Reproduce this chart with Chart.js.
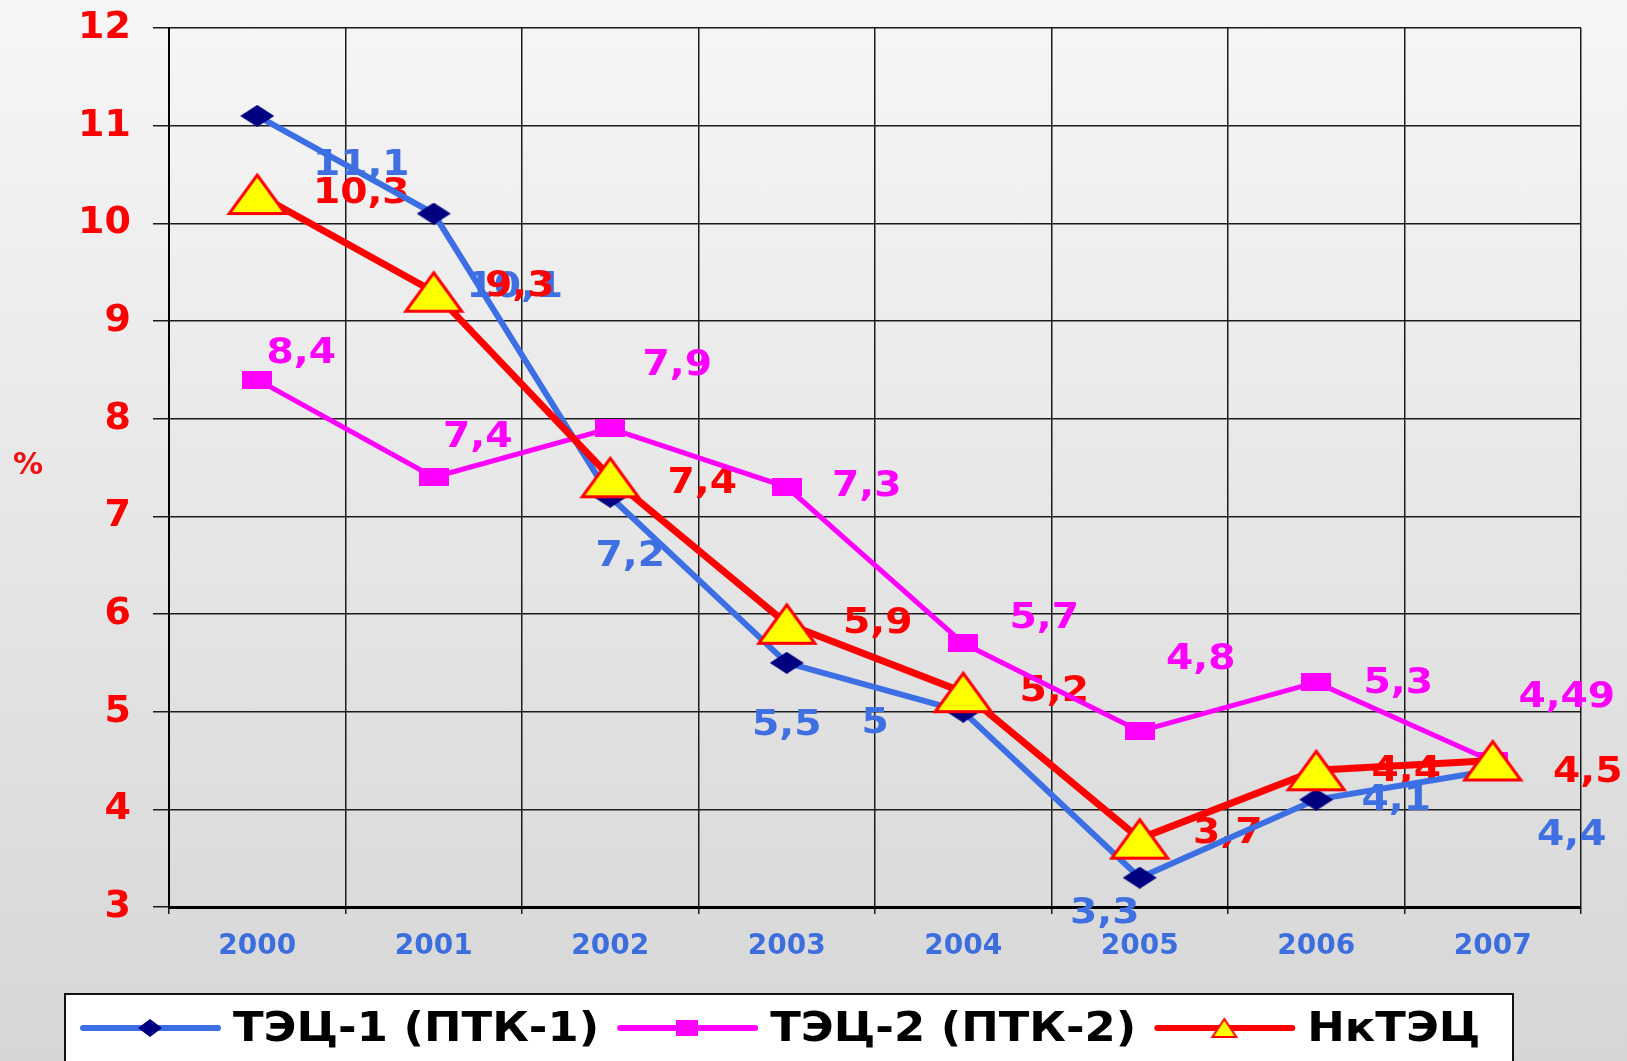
<!DOCTYPE html>
<html lang="ru">
<head>
<meta charset="utf-8">
<title>ТЭЦ, %</title>
<script src="https://cdn.jsdelivr.net/npm/chart.js@4.4.1/dist/chart.umd.min.js"></script>
<style>
    html, body { margin: 0; padding: 0; }
    body {
        width: 1627px;
        height: 1061px;
        overflow: hidden;
        background: linear-gradient(to bottom, #f6f6f6 0%, #e6e6e6 50%, #d6d6d6 100%);
    }
    canvas { display: block; }
</style>
</head>
<body>
<canvas id="chart" width="1627" height="1061"></canvas>
<script>
const years = ['2000', '2001', '2002', '2003', '2004', '2005', '2006', '2007'];
const tec1Values = [11.1, 10.1, 7.2, 5.5, 5, 3.3, 4.1, 4.4];
const tec2Values = [8.4, 7.4, 7.9, 7.3, 5.7, 4.8, 5.3, 4.49];
const nkValues = [10.3, 9.3, 7.4, 5.9, 5.2, 3.7, 4.4, 4.5];
const seriesNames = ['ТЭЦ-1 (ПТК-1)', 'ТЭЦ-2 (ПТК-2)', 'НкТЭЦ'];
const yMin = 3;
const yMax = 12;
const yUnit = '%';

// where each value label sits relative to its point (px)
const tec1Shift = [[104, 50], [81, 74], [20, 60], [0, 63], [-88, 12], [-35, 36], [80, 1], [79, 66]];
const tec2Shift = [[44, -26], [44, -39], [67, -63], [80, 0], [81, -24], [61, -71], [82, 2], [74, -64]];
const nkShift = [[104, 0], [86, -5], [92, 7], [91, 0], [91, 0], [88, -5], [90, 2], [95, 12]];

document.addEventListener("DOMContentLoaded", function() {
    const ctxChart = document.getElementById('chart').getContext('2d');

    function marker(w, h, draw) {
        const c = document.createElement('canvas');
        c.width = w;
        c.height = h;
        draw(c.getContext('2d'), w, h);
        return c;
    }

    function diamond(w, h) {
        return marker(w, h, function(g) {
            g.fillStyle = '#000080';
            g.beginPath();
            g.moveTo(w / 2, 0);
            g.lineTo(w, h / 2);
            g.lineTo(w / 2, h);
            g.lineTo(0, h / 2);
            g.closePath();
            g.fill();
        });
    }

    function square(w, h) {
        return marker(w, h, function(g) {
            g.fillStyle = '#ff00ff';
            g.fillRect(0, 0, w, h);
        });
    }

    function triangle(w, h, lw) {
        return marker(w, h, function(g) {
            g.fillStyle = '#ffff00';
            g.strokeStyle = '#ff0000';
            g.lineWidth = lw;
            g.lineJoin = 'miter';
            g.beginPath();
            g.moveTo(w / 2, lw);
            g.lineTo(w - lw, h - lw / 2 - 1);
            g.lineTo(lw, h - lw / 2 - 1);
            g.closePath();
            g.fill();
            g.stroke();
        });
    }

    const valueLabels = {
        id: 'valueLabels',
        beforeDatasetsDraw(chart) {
            const ctx = chart.ctx;
            chart.data.datasets.forEach((ds, i) => {
                const meta = chart.getDatasetMeta(i);
                meta.data.forEach((pt, j) => {
                    const txt = String(ds.data[j]).replace('.', ',');
                    const shift = ds.labelShift[j];
                    ctx.save();
                    ctx.translate(pt.x + shift[0], pt.y + shift[1]);
                    ctx.scale(1.12, 1);
                    ctx.font = 'bold 35px "DejaVu Sans"';
                    ctx.fillStyle = ds.labelColor;
                    ctx.textAlign = 'center';
                    ctx.textBaseline = 'middle';
                    ctx.fillText(txt, 0, 0);
                    ctx.restore();
                });
            });
        },
        afterDraw(chart) {
            const ctx = chart.ctx;
            // unit of the y axis
            ctx.save();
            ctx.font = 'bold 30px "DejaVu Sans"';
            ctx.fillStyle = '#ee1111';
            ctx.textAlign = 'center';
            ctx.textBaseline = 'middle';
            ctx.fillText(yUnit, 28, 466);
            ctx.restore();

            // legend box
            ctx.save();
            ctx.fillStyle = '#ffffff';
            ctx.fillRect(65, 994, 1448, 100);
            ctx.strokeStyle = '#111';
            ctx.lineWidth = 2;
            ctx.strokeRect(65, 994, 1448, 100);

            const cy = 1028;
            let x = 83;
            chart.data.datasets.forEach(ds => {
                ctx.strokeStyle = ds.borderColor;
                ctx.lineWidth = 6;
                ctx.lineCap = 'round';
                ctx.beginPath();
                ctx.moveTo(x, cy);
                ctx.lineTo(x + 135, cy);
                ctx.stroke();
                const m = ds.legendMarker;
                ctx.drawImage(m, x + 67 - m.width / 2, cy - m.height / 2);
                x += 150;

                ctx.save();
                ctx.translate(x, cy);
                ctx.scale(1.15, 1.04);
                ctx.font = 'bold 39px "DejaVu Sans"';
                ctx.fillStyle = '#000';
                ctx.textAlign = 'left';
                ctx.textBaseline = 'middle';
                ctx.fillText(ds.label, 0, 2);
                const w = ctx.measureText(ds.label).width * 1.15;
                ctx.restore();
                x += w + 21;
            });
            ctx.restore();
        }
    };

    const chart = new Chart(ctxChart, {
        type: 'line',
        data: {
            labels: years,
            datasets: [{
                label: seriesNames[0],
                data: tec1Values,
                borderColor: '#3c6fe4',
                borderWidth: 6,
                pointStyle: diamond(34, 22),
                pointRadius: 10,
                order: 1,
                labelShift: tec1Shift,
                labelColor: '#3f6fe0',
                legendMarker: diamond(24, 18)
            }, {
                label: seriesNames[1],
                data: tec2Values,
                borderColor: '#ff00ff',
                borderWidth: 5,
                pointStyle: square(30, 18),
                pointRadius: 10,
                order: 2,
                labelShift: tec2Shift,
                labelColor: '#ff00ff',
                legendMarker: square(22, 16)
            }, {
                label: seriesNames[2],
                data: nkValues,
                borderColor: '#ff0000',
                borderWidth: 7,
                pointStyle: triangle(62, 44, 3),
                pointRadius: 20,
                order: 0,
                labelShift: nkShift,
                labelColor: '#ff0000',
                legendMarker: triangle(28, 22, 2)
            }]
        },
        options: {
            responsive: false,
            animation: false,
            layout: {
                padding: { top: 28, right: 46, bottom: 94, left: 0 }
            },
            plugins: {
                legend: { display: false },
                tooltip: { enabled: false }
            },
            elements: {
                line: { tension: 0 }
            },
            scales: {
                x: {
                    offset: true,
                    grid: {
                        offset: true,
                        color: '#1c1c1c',
                        lineWidth: 1.5,
                        tickLength: 7
                    },
                    border: { color: '#000', width: 3 },
                    ticks: {
                        color: '#3d6ede',
                        font: { family: 'DejaVu Sans', weight: 'bold', size: 28 },
                        padding: 16,
                        maxRotation: 0
                    },
                    afterFit(scale) { scale.height = 60; }
                },
                y: {
                    min: yMin,
                    max: yMax,
                    ticks: {
                        stepSize: 1,
                        color: '#ff0000',
                        font: { family: 'DejaVu Sans', weight: 'bold', size: 38 },
                        padding: 22
                    },
                    grid: {
                        color: '#1c1c1c',
                        lineWidth: 1.5,
                        tickLength: 16
                    },
                    border: { color: '#000', width: 2 },
                    afterFit(scale) {
                        scale.width = 169;
                        scale.paddingTop = 0;
                        scale.paddingBottom = 0;
                    }
                }
            }
        },
        plugins: [valueLabels]
    });
});
</script>
</body>
</html>
